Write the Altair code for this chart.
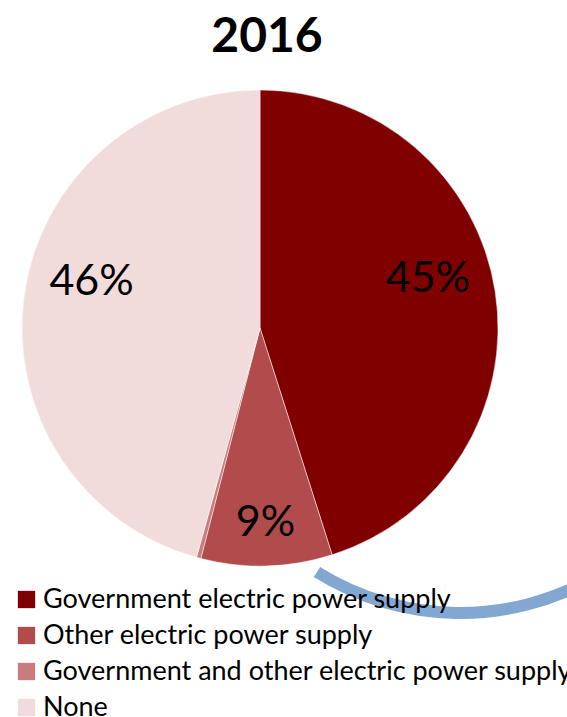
import altair as alt
import pandas as pd

categories = [
    "Government electric power supply",
    "Other electric power supply",
    "Government and other electric power supply",
    "None",
]
values = [45.1, 8.9, 0.3, 45.7]
colors = ["#800000", "#B24B4B", "#C87C7C", "#F2DCDB"]
title_text = "2016"

df = pd.DataFrame({"category": categories, "value": values, "order": list(range(len(categories)))})

base = alt.Chart(df).transform_joinaggregate(
    total="sum(value)"
).transform_calculate(
    pct="datum.value / datum.total",
    big_label="datum.value / datum.total >= 0.2 ? format(datum.value / datum.total, '.0%') : ''",
    small_label="(datum.value / datum.total >= 0.01 && datum.value / datum.total < 0.2) ? format(datum.value / datum.total, '.0%') : ''",
)

theta = alt.Theta("value:Q", stack=True)
order = alt.Order("order:Q", sort="ascending")

pie = base.mark_arc(outerRadius=238, stroke="white", strokeWidth=0.5).encode(
    theta=theta,
    order=order,
    color=alt.Color(
        "category:N",
        scale=alt.Scale(domain=categories, range=colors),
        sort=categories,
        legend=alt.Legend(
            title=None,
            orient="none",
            legendX=13,
            legendY=526,
            symbolType="square",
            symbolSize=300,
            symbolStrokeWidth=0,
            labelFontSize=27,
            labelFont="Lato",
            labelColor="#000000",
            labelLimit=700,
            rowPadding=8,
            labelOffset=3,
            padding=0,
        ),
    ),
)

labels_big = base.mark_text(
    radius=170, dy=-23, fontSize=43, font="Lato", color="#000000"
).encode(
    theta=theta,
    order=order,
    text="big_label:N",
)

labels_small = base.mark_text(
    radius=195, fontSize=43, font="Lato", color="#000000"
).encode(
    theta=theta,
    order=order,
    text="small_label:N",
)

# decorative blue arc seen in the original image
deco = alt.Chart(pd.DataFrame({"k": [0]})).mark_arc(
    color="#7BA3D0", opacity=0.95,
    theta=2.62, theta2=3.70, radius=264, radius2=276,
).encode(x=alt.value(460), y=alt.value(283))

chart = alt.layer(pie, labels_big, labels_small, deco).properties(
    width=520,
    height=536,
    padding={"left": 0, "top": 60, "right": 47, "bottom": 121},
    autosize=alt.AutoSizeParams(type="none"),
    title=alt.TitleParams(
        title_text, fontSize=48, font="Lato", fontWeight="bold",
        anchor="middle", offset=-2, dx=7, color="#000000",
    ),
).configure(background="white", view=alt.ViewConfig(stroke=None))

chart.save("out.html", embed_options={"renderer": "svg", "actions": False})
